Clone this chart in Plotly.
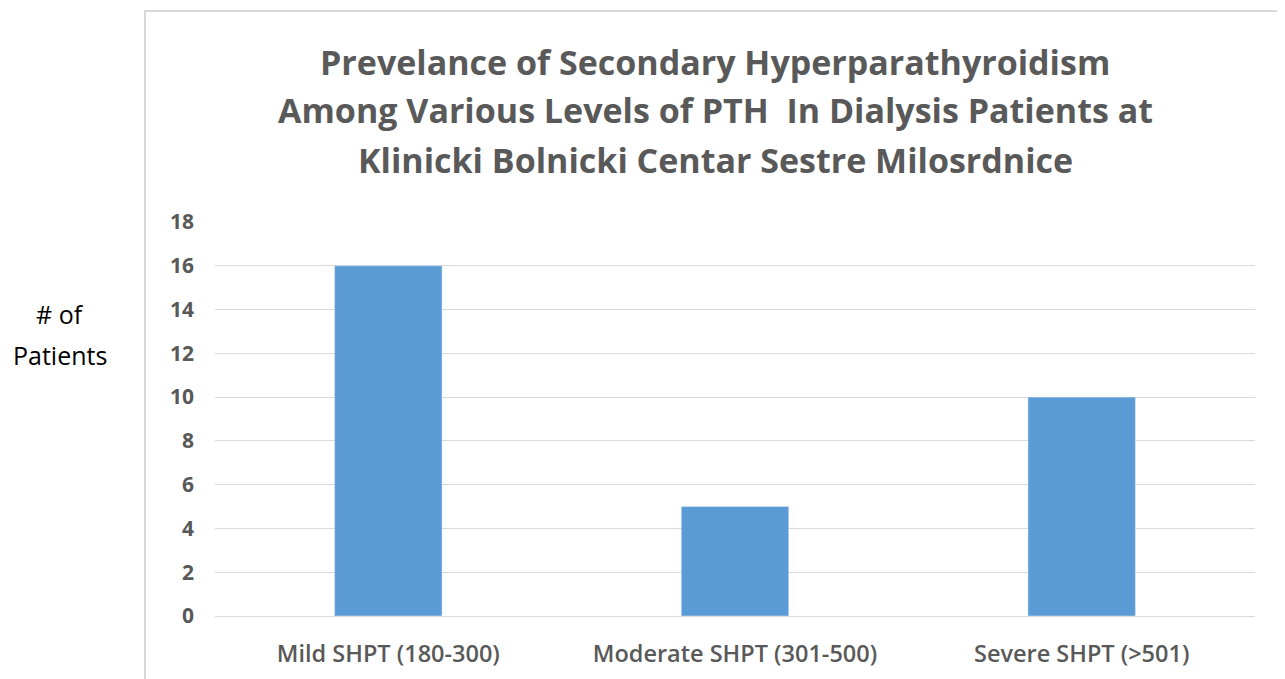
import plotly.graph_objects as go

categories = ["Mild SHPT (180-300)", "Moderate SHPT (301-500)", "Severe SHPT (>501)"]
patients = [16, 5, 10]
y_ticks = [0, 2, 4, 6, 8, 10, 12, 14, 16, 18]
title_lines = [
    "Prevelance of Secondary Hyperparathyroidism",
    "Among Various Levels of PTH  In Dialysis Patients at",
    "Klinicki Bolnicki Centar Sestre Milosrdnice",
]

OFF = 8  # page body margin
W, H = 1285 - OFF, 679 - OFF
L, R, T, B = 215 - OFF, 30, 222 - OFF, 63
pw = W - L - R
ph = H - T - B

def px2x(px):
    return (px - OFF - L) / pw

def py2y(py):
    return (H - B - (py - OFF)) / ph

fig = go.Figure(go.Bar(
    x=categories, y=patients, marker_color="#5B9BD5", width=0.31,
))

font_fam = "Open Sans, Noto Sans, sans-serif"
fig.update_layout(
    width=W, height=H,
    margin=dict(l=L, r=R, t=T, b=B),
    paper_bgcolor="white", plot_bgcolor="white",
    showlegend=False,
    font=dict(family=font_fam, color="#595959"),
)
fig.update_yaxes(
    range=[0, 18], tickvals=y_ticks, showgrid=True, gridcolor="#D9D9D9", gridwidth=1,
    zeroline=False, showline=False, automargin=False,
    tickfont=dict(size=21, color="#595959", family=font_fam, weight="bold"),
    ticklabelstandoff=20,
)
fig.update_xaxes(
    showline=True, linecolor="#D9D9D9", linewidth=1, automargin=False,
    tickfont=dict(size=23.5, color="#595959", family=font_fam, weight=600),
    ticklabelstandoff=17,
)

title_y = [62, 110, 160]
for txt, yy in zip(title_lines, title_y):
    fig.add_annotation(
        text=txt, x=px2x(715), y=py2y(yy), xref="paper", yref="paper",
        showarrow=False, xanchor="center", yanchor="middle",
        font=dict(size=34, color="#595959", family=font_fam, weight="bold"),
    )

fig.add_annotation(text="# of", x=px2x(60), y=py2y(314), xref="paper", yref="paper",
                   showarrow=False, xanchor="center", yanchor="middle",
                   font=dict(size=25, color="black", family=font_fam))
fig.add_annotation(text="Patients", x=px2x(60), y=py2y(355), xref="paper", yref="paper",
                   showarrow=False, xanchor="center", yanchor="middle",
                   font=dict(size=25, color="black", family=font_fam))

fig.add_shape(type="rect", xref="paper", yref="paper",
              x0=px2x(145), x1=px2x(1300), y0=py2y(700), y1=py2y(11),
              line=dict(color="#D9D9D9", width=2), fillcolor="rgba(0,0,0,0)", layer="below")

fig.write_html("out.html")
